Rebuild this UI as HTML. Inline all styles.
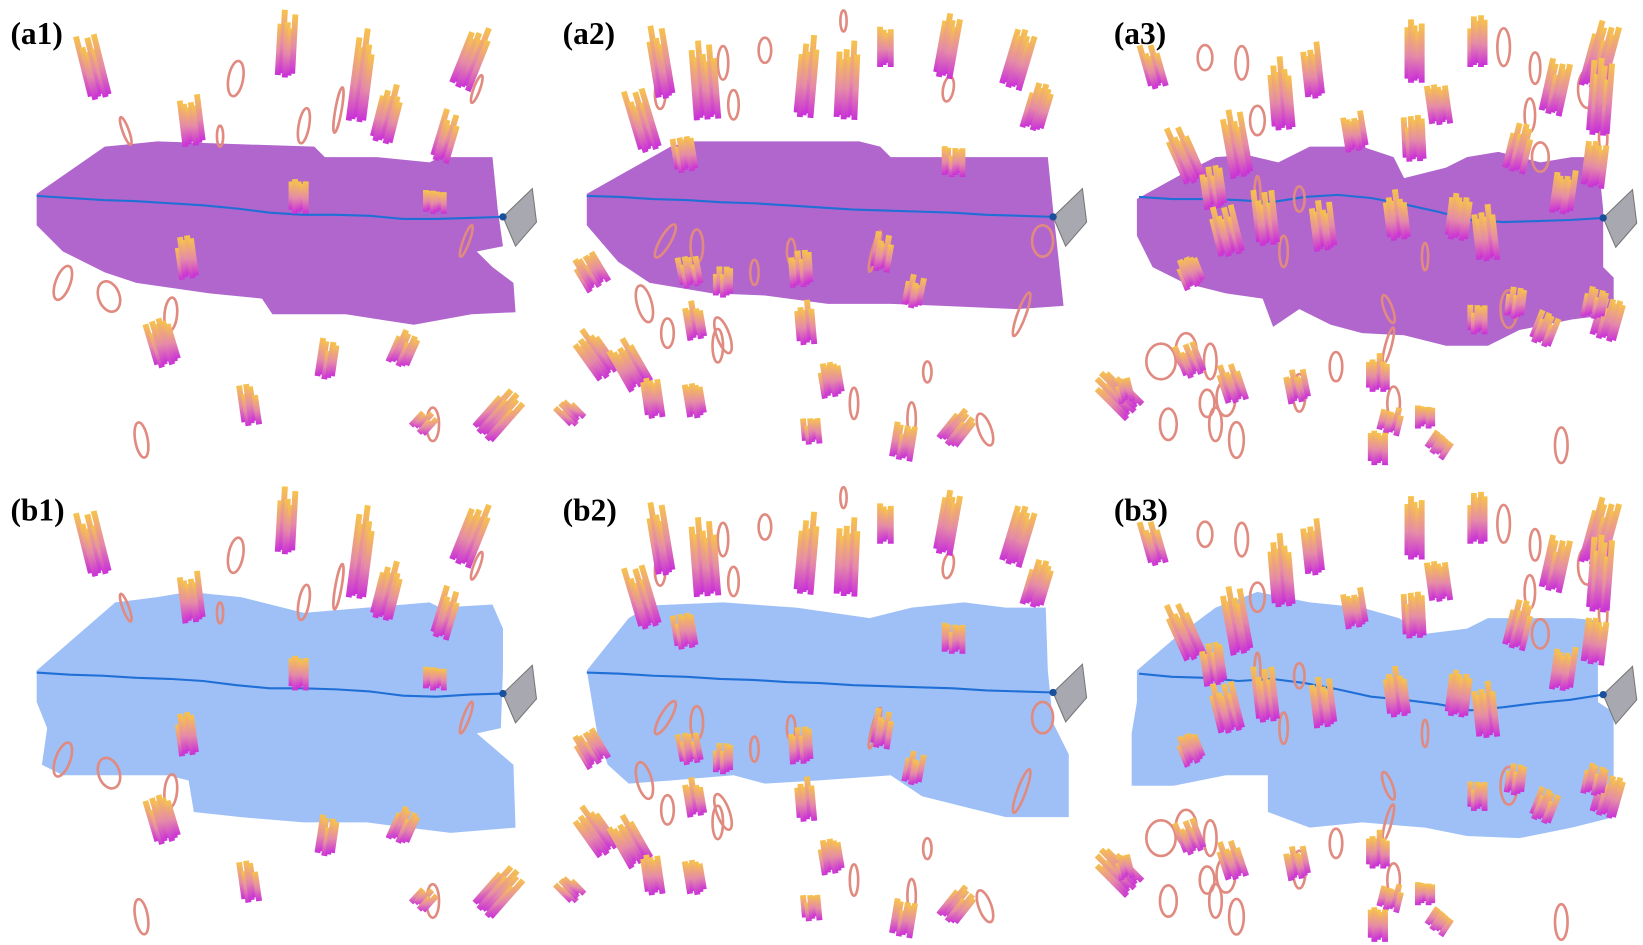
<!DOCTYPE html>
<html><head><meta charset="utf-8">
<style>
html,body{margin:0;padding:0;background:#fff;}
svg{display:block;}
.lbl{font-family:"Liberation Serif",serif;font-weight:bold;font-size:30px;fill:#000;}
</style></head>
<body>
<svg id="fig" width="1643" height="945" viewBox="0 0 1568 902" preserveAspectRatio="none" xmlns="http://www.w3.org/2000/svg">
<defs>
<linearGradient id="gb" x1="0" y1="1" x2="0" y2="0">
<stop offset="0" stop-color="#c92fd8"/><stop offset="0.45" stop-color="#e58aa8"/><stop offset="1" stop-color="#f7c44a"/>
</linearGradient>
</defs>
<g id="shapes">
<polygon fill="#b066cc" points="35,185 100,140 150,135 300,140 310,150 360,150 410,155 420,150 470,150 475,200 480,235 455,240 470,255 490,270 492,298 450,300 395,310 330,300 260,300 250,285 200,280 130,270 100,260 60,240 35,215"/>
<polygon fill="#b066cc" points="560,185 640,140 660,135 820,135 840,140 850,150 1000,150 1005,200 1010,245 1015,292 970,295 900,292 850,290 790,290 730,282 680,280 620,270 590,250 560,215"/>
<polygon fill="#b066cc" points="1085,190 1130,165 1160,150 1190,148 1220,155 1250,140 1300,140 1330,150 1340,170 1380,160 1400,150 1430,145 1470,155 1500,150 1525,150 1530,200 1530,255 1540,265 1540,300 1500,305 1450,315 1420,330 1380,330 1340,320 1300,318 1270,310 1240,295 1215,312 1205,285 1170,280 1130,270 1100,255 1085,225"/>
<polygon fill="#9ec0f7" points="35,640 110,575 150,570 180,565 230,570 290,585 350,580 410,575 420,580 470,577 480,600 480,640 478,695 455,700 490,730 492,790 430,795 350,785 290,785 230,780 185,775 180,745 160,740 110,740 60,740 40,730 45,695 35,670"/>
<polygon fill="#9ec0f7" points="560,640 600,590 620,578 690,575 760,580 830,590 870,580 920,575 960,580 998,580 1000,640 1005,690 1020,720 1020,780 960,780 920,770 880,760 850,740 780,745 730,748 700,740 640,745 600,748 580,730 570,700"/>
<polygon fill="#9ec0f7" points="1085,640 1120,610 1160,580 1200,565 1250,575 1300,580 1335,590 1360,605 1400,600 1420,590 1460,590 1500,590 1525,592 1525,670 1540,680 1540,780 1500,790 1450,800 1400,798 1360,790 1300,785 1250,790 1210,775 1210,740 1170,740 1120,750 1080,750 1080,700 1085,670"/>
</g>
<g id="paths"></g>
<g id="bundles"></g>
<text class="lbl" x="10" y="42">(a1)</text>
<text class="lbl" x="537" y="42">(a2)</text>
<text class="lbl" x="1063" y="42">(a3)</text>
<text class="lbl" x="10" y="497">(b1)</text>
<text class="lbl" x="537" y="497">(b2)</text>
<text class="lbl" x="1063" y="497">(b3)</text>
</svg>
<script>
const NS="http://www.w3.org/2000/svg";
const colX=[0,525,1050];
const rowY=[0,455];
const bund=[
 [[95,90,82,38,4],[272,70,275,15,3],[340,112,350,35,3],[364,132,376,85,4],[440,80,460,30,4],[185,135,180,95,4],[285,200,285,170,3],[415,200,415,180,4],[180,262,175,225,3],[160,345,148,305,5],[310,358,315,325,3],[380,345,392,318,4],[240,402,235,368,3],[462,412,492,378,5],[400,408,412,395,3],[420,150,432,110,3]],
 [[95,140,80,90,4],[110,90,100,30,3],[150,110,145,45,5],[242,108,248,40,3],[282,110,285,45,4],[320,60,320,25,2],[375,70,385,15,3],[440,80,455,30,4],[460,120,472,80,4],[130,160,125,130,4],[385,165,385,140,4],[45,270,30,245,5],[135,270,130,245,4],[165,280,165,255,3],[240,270,238,240,4],[315,255,320,225,3],[345,290,350,265,3],[140,320,135,290,3],[245,325,242,290,3],[55,355,30,320,5],[85,365,65,330,5],[100,395,95,360,3],[140,395,135,365,3],[270,375,265,345,4],[250,420,248,398,3],[335,435,340,405,4],[380,420,400,395,4],[25,400,10,385,3]],
 [[55,80,45,45,3],[90,170,70,125,4],[135,165,125,110,4],[175,120,170,60,4],[205,90,200,45,3],[245,140,240,110,4],[300,75,300,20,3],[325,115,320,80,4],[360,60,360,15,3],[300,150,298,110,4],[430,105,440,60,4],[470,80,485,25,5],[475,125,480,60,4],[395,160,405,120,4],[110,195,105,160,4],[160,230,155,185,4],[125,240,115,200,5],[215,235,210,195,4],[285,225,280,185,4],[370,245,365,200,4],[440,200,445,165,4],[340,225,345,185,4],[470,175,475,135,4],[90,270,80,245,4],[360,315,360,290,3],[480,320,490,285,5],[470,300,475,275,4],[420,325,430,300,4],[395,300,398,275,3],[30,390,0,360,5],[90,355,80,330,4],[130,380,120,350,4],[190,380,185,355,4],[265,370,265,340,4],[275,410,280,390,4],[310,405,310,385,3],[265,440,265,410,3],[320,430,330,415,4],[25,380,20,360,2]]
];
const rings=[
 [[225,75,7,17,10],[290,120,5,17,10],[60,270,7,17,20],[104,283,10,15,-20],[163,300,6,16,5],[135,420,6,17,-10],[413,405,6,16,0],[323,105,3,22,10],[445,230,3,16,20],[120,125,3,14,-20],[210,130,3,10,0],[455,85,3,14,20]],
 [[205,48,6,12,0],[165,60,5,16,0],[105,90,5,14,0],[175,100,5,14,0],[110,230,5,18,30],[140,235,6,16,0],[195,260,4,12,0],[230,240,4,12,0],[310,240,3,20,15],[470,230,10,15,0],[90,290,7,18,-15],[112,318,6,14,0],[165,320,6,18,-20],[160,330,5,16,0],[360,355,4,10,0],[290,385,4,15,0],[345,400,4,16,0],[415,410,6,16,-20],[450,300,4,22,20],[380,85,5,12,10],[280,20,3,10,0]],
 [[100,55,7,12,0],[135,60,6,16,0],[150,115,7,14,0],[385,45,6,18,0],[415,65,5,15,0],[410,110,5,16,0],[420,150,8,14,0],[465,85,9,18,0],[480,130,4,18,0],[150,190,3,22,0],[190,190,5,12,0],[58,345,14,17,0],[82,335,10,17,0],[105,345,6,17,0],[120,380,9,17,0],[65,405,8,15,0],[110,405,6,16,0],[102,385,7,13,0],[130,420,7,17,0],[190,375,6,18,0],[225,350,6,14,0],[280,385,6,16,0],[440,425,6,17,0],[390,295,8,18,0],[275,330,3,18,15],[175,240,4,15,0],[310,245,3,13,0],[275,295,4,14,-20]]
];
const trajA1=[187,189,191,192,194,196,199,203,205,205,206,209,209,208,207];
const trajA2=[187,188,190,191,193,194,196,198,200,201,202,203,205,206,207];
const trajA3=[188,190,190,191,193,188,186,189,195,202,210,212,211,210,208];
const trajB1=[642,644,645,647,648,650,654,657,657,658,660,664,665,663,662];
const trajB2=[642,643,645,646,648,649,651,652,654,655,656,657,659,660,661];
const trajB3=[643,646,647,650,648,652,658,665,668,672,678,675,671,668,663];
const trajs=[[trajA1,35,480],[trajA2,560,1005],[trajA3,1087,1530],[trajB1,35,480],[trajB2,560,1005],[trajB3,1087,1530]];

const pg=document.getElementById('paths');
trajs.forEach((t,i)=>{
 const [ys,x0,x1]=t;
 const pts=ys.map((y,k)=>(x0+(x1-x0)*k/(ys.length-1)).toFixed(1)+','+y).join(' ');
 const pl=document.createElementNS(NS,'polyline');
 pl.setAttribute('points',pts);pl.setAttribute('fill','none');pl.setAttribute('stroke','#1f6fd6');pl.setAttribute('stroke-width','2');
 
 
 pg.appendChild(pl);
 const ex=x1, ey=ys[ys.length-1];
 const cam=document.createElementNS(NS,'polygon');
 cam.setAttribute('points',`${ex},${ey} ${ex+28},${ey-27} ${ex+32},${ey+5} ${ex+12},${ey+28}`);
 cam.setAttribute('fill','#a8a8b0');cam.setAttribute('stroke','#777');cam.setAttribute('stroke-width','1');
 
 
 pg.appendChild(cam);
 const d=document.createElementNS(NS,'circle');
 d.setAttribute('cx',ex);d.setAttribute('cy',ey);d.setAttribute('r','3.5');d.setAttribute('fill','#1a4f9c');
 
 
 pg.appendChild(d);
});

const bg=document.getElementById('bundles');
for(let r=0;r<2;r++)for(let c=0;c<3;c++){
 const ox=colX[c], oy=rowY[r];
 rings[c].forEach(g=>{
  const e=document.createElementNS(NS,'ellipse');
  e.setAttribute('cx',g[0]+ox);e.setAttribute('cy',g[1]+oy);e.setAttribute('rx',g[2]);e.setAttribute('ry',g[3]);
  e.setAttribute('transform',`rotate(${g[4]} ${g[0]+ox} ${g[1]+oy})`);
  e.setAttribute('fill','none');e.setAttribute('stroke','#e08a80');e.setAttribute('stroke-width','2.5');
  
  
  bg.appendChild(e);
 });
 bund[c].forEach((b,bi)=>{
  const [xb,yb,xt,yt,n0]=b;
  const n=n0+2;
  const dx=xt-xb, dy=yt-yb, L=Math.hypot(dx,dy)||1;
  const px=-dy/L, py=dx/L;
  for(let i=0;i<n;i++){
   const off=(i-(n-1)/2)*3.4;
   const f=1.1-((i*37+bi*13)%5)*0.07;
   const sh=((i*11+bi*7)%3)*2;
   const x1=xb+ox+px*off-dx/L*sh, y1=yb+oy+py*off-dy/L*sh;
   const x2=x1+dx*f, y2=y1+dy*f;
   const w=2.8;
   const p=document.createElementNS(NS,'polygon');
   p.setAttribute('points',`${(x1-px*w).toFixed(1)},${(y1-py*w).toFixed(1)} ${(x1+px*w).toFixed(1)},${(y1+py*w).toFixed(1)} ${(x2+px*w).toFixed(1)},${(y2+py*w).toFixed(1)} ${(x2-px*w).toFixed(1)},${(y2-py*w).toFixed(1)}`);
   p.setAttribute('fill','url(#gb)');
   
   
   bg.appendChild(p);
  }
 });
}
</script>
</body></html>
